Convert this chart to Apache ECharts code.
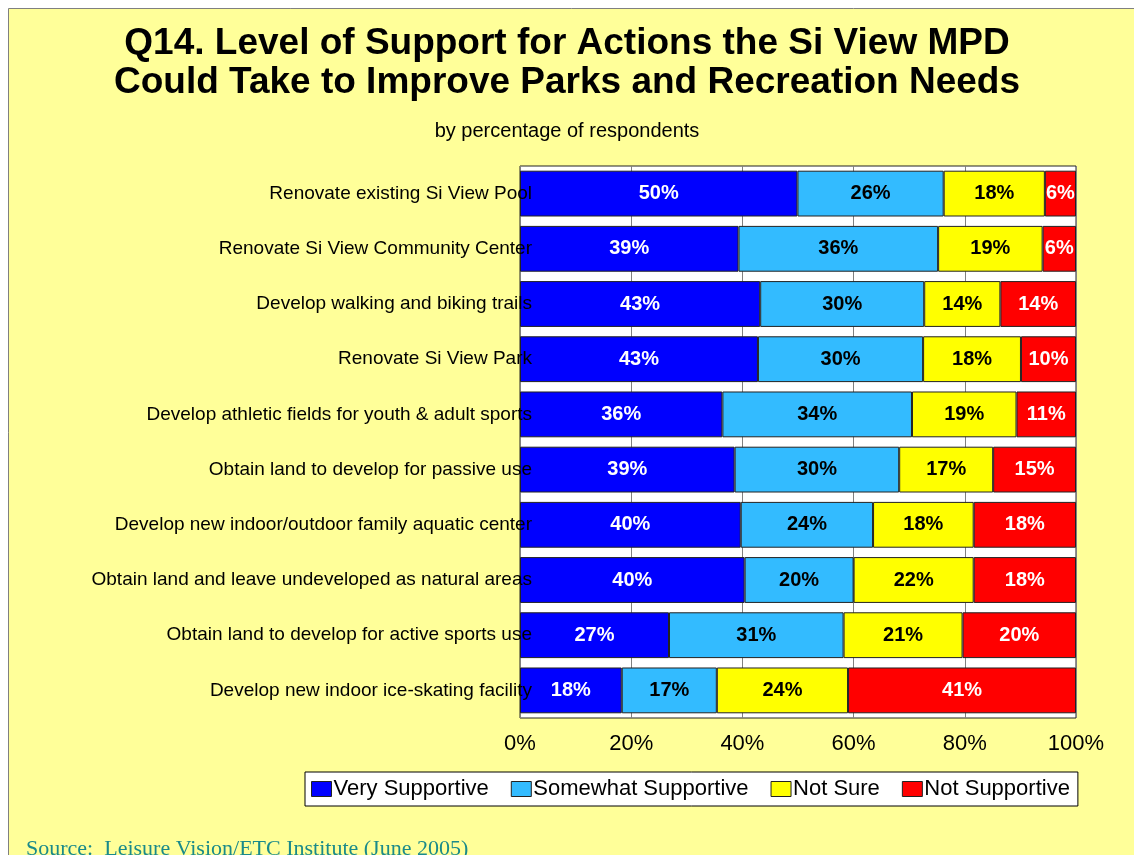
<!DOCTYPE html>
<html>

<head>
  <meta charset="utf-8" />
  <style>
    html, body { margin: 0; padding: 0; background: #fff; }
    #chart { width: 1134px; height: 855px; }
  </style>
  <script src="https://cdn.jsdelivr.net/npm/echarts@6/dist/echarts.min.js"></script>
</head>

<body>
  <div id="chart"></div>
  <script type="text/javascript">
    const categories = [
      "Renovate existing Si View Pool",
      "Renovate Si View Community Center",
      "Develop walking and biking trails",
      "Renovate Si View Park",
      "Develop athletic fields for youth & adult sports",
      "Obtain land to develop for passive use",
      "Develop new indoor/outdoor family aquatic center",
      "Obtain land and leave undeveloped as natural areas",
      "Obtain land to develop for active sports use",
      "Develop new indoor ice-skating facility"
    ];
    const verySupportive = [49.9, 39.3, 43.2, 42.8, 36.4, 38.6, 39.7, 40.4, 26.8, 18.3];
    const somewhatSupportive = [26.3, 35.9, 29.5, 29.7, 34.1, 29.6, 23.8, 19.6, 31.4, 17.1];
    const notSure = [18.2, 18.8, 13.7, 17.6, 18.8, 16.9, 18.1, 21.6, 21.4, 23.6];
    const notSupportive = [5.6, 6.0, 13.6, 9.9, 10.7, 14.9, 18.4, 18.4, 20.4, 41.0];
    const xTicks = [0, 20, 40, 60, 80, 100];

    const font = '"Liberation Sans", Arial, sans-serif';
    const chart = echarts.init(document.getElementById("chart"));

    function barSeries(name, data, color, labelColor) {
      return {
        name: name,
        type: 'bar',
        stack: 'total',
        data: data,
        barCategoryGap: '17%',
        itemStyle: { color: color, borderColor: '#222', borderWidth: 1 },
        label: {
          show: true,
          position: 'inside',
          formatter: p => Math.round(p.value) + '%',
          color: labelColor,
          fontFamily: font,
          fontWeight: 'bold',
          fontSize: 20
        },
        emphasis: { disabled: true }
      };
    }

    const titleStyle = { fontFamily: font, fontSize: 37, fontWeight: 'bold', color: '#000' };

    var option = {
      animation: false,
      backgroundColor: '#fff',
      graphic: [{
        type: 'rect',
        z: -10,
        shape: { x: 8.5, y: 8.5, width: 1200, height: 900 },
        style: { fill: '#FFFF99', stroke: '#808080', lineWidth: 1 }
      }],
      textStyle: { fontFamily: font },
      title: [
        {
          text: 'Q14. Level of Support for Actions the Si View MPD',
          left: 'center',
          top: 20,
          textStyle: titleStyle
        },
        {
          text: 'Could Take to Improve Parks and Recreation Needs',
          left: 'center',
          top: 59,
          textStyle: titleStyle
        },
        {
          text: 'by percentage of respondents',
          left: 'center',
          top: 116,
          textStyle: { fontFamily: font, fontSize: 20, fontWeight: 'normal', color: '#000' }
        },
        {
          text: 'Source:  Leisure Vision/ETC Institute (June 2005)',
          left: 21,
          top: 833,
          textStyle: { fontFamily: '"Liberation Serif", "Times New Roman", serif', fontSize: 22, fontWeight: 'normal', color: '#1A8A8A' }
        }
      ],
      legend: {
        left: 305,
        top: 772,
        icon: 'rect',
        itemWidth: 20,
        itemHeight: 15,
        itemGap: 22,
        padding: [6, 8, 6, 6],
        backgroundColor: '#fff',
        borderColor: '#000',
        borderWidth: 1,
        borderRadius: 0,
        textStyle: { fontFamily: font, fontSize: 22, color: '#000', padding: [0, 0, 0, -3] },
        itemStyle: { borderColor: '#222', borderWidth: 1 }
      },
      grid: {
        left: 520,
        right: 58,
        top: 166,
        bottom: 137,
        show: true,
        backgroundColor: '#fff',
        borderColor: '#222',
        borderWidth: 1
      },
      xAxis: {
        type: 'value',
        min: xTicks[0],
        max: xTicks[xTicks.length - 1],
        interval: 20,
        axisLine: { show: false },
        axisTick: { show: false },
        splitLine: { show: true, lineStyle: { color: '#808080', width: 1 } },
        axisLabel: { formatter: '{value}%', fontFamily: font, fontSize: 22, color: '#000', margin: 15 }
      },
      yAxis: {
        type: 'category',
        data: categories,
        inverse: true,
        z: 10,
        axisLine: { show: false },
        axisTick: { show: false },
        axisLabel: { fontFamily: font, fontSize: 19, color: '#000', margin: -12 }
      },
      series: [
        barSeries('Very Supportive', verySupportive, '#0000FF', '#fff'),
        barSeries('Somewhat Supportive', somewhatSupportive, '#33BBFF', '#000'),
        barSeries('Not Sure', notSure, '#FFFF00', '#000'),
        barSeries('Not Supportive', notSupportive, '#FF0000', '#fff')
      ]
    };

    chart.setOption(option);

    window.onresize = () => {
      chart?.resize();
    };
  </script>
</body>

</html>
